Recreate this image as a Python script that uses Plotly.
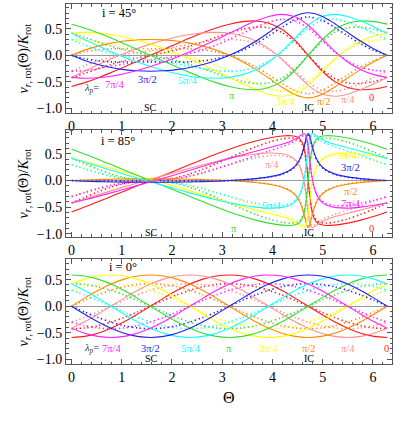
import plotly.graph_objects as go

# Theta grids (radians)
theta_15 = [0.0, 0.2618, 0.5236, 0.7854, 1.0472, 1.3090, 1.5708, 1.8326, 2.0944, 2.3562, 2.6180, 2.8798,
            3.1416, 3.4034, 3.6652, 3.9270, 4.1888, 4.4506, 4.7124, 4.9742, 5.2360, 5.4978, 5.7596, 6.0214, 6.2832]
theta_85 = [0.0, 0.2618, 0.5236, 0.7854, 1.0472, 1.3090, 1.5708, 1.8326, 2.0944, 2.3562, 2.6180, 2.8798,
            3.1416, 3.4034, 3.6652, 3.9270, 4.1888, 4.3633, 4.4680, 4.5379, 4.5902, 4.6251, 4.6426, 4.6600,
            4.6775, 4.6949, 4.7124, 4.7298, 4.7473, 4.7647, 4.7822, 4.7997, 4.8346, 4.8869, 4.9567, 5.0615,
            5.2360, 5.4978, 5.7596, 6.0214, 6.2832]

##########################
# i = 45 deg
##########################
s45_0 = [-0.589, -0.516, -0.427, -0.327, -0.220, -0.111, 0.000, 0.111, 0.220, 0.327, 0.427, 0.516, 0.589, 0.637, 0.650, 0.608, 0.492, 0.282, 0.000, -0.282, -0.492, -0.608, -0.650, -0.637, -0.589]
s45_1 = [-0.417, -0.296, -0.179, -0.068, 0.035, 0.128, 0.212, 0.285, 0.347, 0.394, 0.425, 0.434, 0.417, 0.365, 0.272, 0.126, -0.078, -0.327, -0.568, -0.727, -0.773, -0.734, -0.647, -0.536, -0.417]
s45_2 = [0.000, 0.098, 0.174, 0.231, 0.270, 0.292, 0.300, 0.292, 0.270, 0.231, 0.174, 0.098, 0.000, -0.121, -0.265, -0.430, -0.602, -0.745, -0.804, -0.745, -0.602, -0.430, -0.265, -0.121, 0.000]
s45_3 = [0.417, 0.434, 0.425, 0.394, 0.347, 0.285, 0.212, 0.128, 0.035, -0.068, -0.179, -0.296, -0.417, -0.536, -0.647, -0.734, -0.773, -0.727, -0.568, -0.327, -0.078, 0.126, 0.272, 0.365, 0.417]
s45_4 = [0.589, 0.516, 0.427, 0.327, 0.220, 0.111, 0.000, -0.111, -0.220, -0.327, -0.427, -0.516, -0.589, -0.637, -0.650, -0.608, -0.492, -0.282, 0.000, 0.282, 0.492, 0.608, 0.650, 0.637, 0.589]
s45_5 = [0.417, 0.296, 0.179, 0.068, -0.035, -0.128, -0.212, -0.285, -0.347, -0.394, -0.425, -0.434, -0.417, -0.365, -0.272, -0.126, 0.078, 0.327, 0.568, 0.727, 0.773, 0.734, 0.647, 0.536, 0.417]
s45_6 = [0.000, -0.098, -0.174, -0.231, -0.270, -0.292, -0.300, -0.292, -0.270, -0.231, -0.174, -0.098, 0.000, 0.121, 0.265, 0.430, 0.602, 0.745, 0.804, 0.745, 0.602, 0.430, 0.265, 0.121, 0.000]
s45_7 = [-0.417, -0.434, -0.425, -0.394, -0.347, -0.285, -0.212, -0.128, -0.035, 0.068, 0.179, 0.296, 0.417, 0.536, 0.647, 0.734, 0.773, 0.727, 0.568, 0.327, 0.078, -0.126, -0.272, -0.365, -0.417]

d45_0 = [-0.424, -0.341, -0.254, -0.173, -0.104, -0.048, 0.000, 0.048, 0.104, 0.173, 0.254, 0.341, 0.424, 0.493, 0.532, 0.520, 0.433, 0.253, 0.000, -0.253, -0.433, -0.520, -0.532, -0.493, -0.424]
d45_1 = [-0.300, -0.195, -0.106, -0.036, 0.017, 0.055, 0.088, 0.123, 0.164, 0.209, 0.253, 0.287, 0.300, 0.283, 0.223, 0.108, -0.069, -0.293, -0.512, -0.651, -0.681, -0.627, -0.530, -0.415, -0.300]
d45_2 = [0.000, 0.065, 0.104, 0.123, 0.127, 0.126, 0.124, 0.126, 0.127, 0.123, 0.104, 0.065, 0.000, -0.094, -0.217, -0.368, -0.530, -0.668, -0.725, -0.668, -0.530, -0.368, -0.217, -0.094, 0.000]
d45_3 = [0.300, 0.287, 0.253, 0.209, 0.164, 0.123, 0.088, 0.055, 0.017, -0.036, -0.106, -0.195, -0.300, -0.415, -0.530, -0.627, -0.681, -0.651, -0.512, -0.293, -0.069, 0.108, 0.223, 0.283, 0.300]
d45_4 = [0.424, 0.341, 0.254, 0.173, 0.104, 0.048, 0.000, -0.048, -0.104, -0.173, -0.254, -0.341, -0.424, -0.493, -0.532, -0.520, -0.433, -0.253, 0.000, 0.253, 0.433, 0.520, 0.532, 0.493, 0.424]
d45_5 = [0.300, 0.195, 0.106, 0.036, -0.017, -0.055, -0.088, -0.123, -0.164, -0.209, -0.253, -0.287, -0.300, -0.283, -0.223, -0.108, 0.069, 0.293, 0.512, 0.651, 0.681, 0.627, 0.530, 0.415, 0.300]
d45_6 = [0.000, -0.065, -0.104, -0.123, -0.127, -0.126, -0.124, -0.126, -0.127, -0.123, -0.104, -0.065, 0.000, 0.094, 0.217, 0.368, 0.530, 0.668, 0.725, 0.668, 0.530, 0.368, 0.217, 0.094, 0.000]
d45_7 = [-0.300, -0.287, -0.253, -0.209, -0.164, -0.123, -0.088, -0.055, -0.017, 0.036, 0.106, 0.195, 0.300, 0.415, 0.530, 0.627, 0.681, 0.651, 0.512, 0.293, 0.069, -0.108, -0.223, -0.283, -0.300]

##########################
# i = 85 deg
##########################
s85_0 = [-0.589, -0.498, -0.400, -0.300, -0.199, -0.099, 0.000, 0.099, 0.199, 0.300, 0.400, 0.498, 0.589, 0.672, 0.743, 0.800, 0.837, 0.843, 0.826, 0.788, 0.718, 0.625, 0.552, 0.455, 0.328, 0.173, 0.000, -0.173, -0.328, -0.455, -0.552, -0.625, -0.718, -0.788, -0.826, -0.843, -0.837, -0.800, -0.743, -0.672, -0.589]
s85_1 = [-0.417, -0.344, -0.269, -0.194, -0.119, -0.047, 0.023, 0.093, 0.162, 0.231, 0.297, 0.360, 0.417, 0.464, 0.499, 0.517, 0.503, 0.453, 0.380, 0.282, 0.147, 0.002, -0.096, -0.213, -0.347, -0.489, -0.624, -0.734, -0.811, -0.856, -0.877, -0.882, -0.868, -0.832, -0.788, -0.739, -0.681, -0.615, -0.552, -0.486, -0.417]
s85_2 = [0.000, 0.012, 0.020, 0.026, 0.030, 0.032, 0.033, 0.032, 0.030, 0.026, 0.020, 0.012, 0.000, -0.016, -0.037, -0.070, -0.126, -0.202, -0.289, -0.389, -0.510, -0.622, -0.688, -0.756, -0.819, -0.865, -0.883, -0.865, -0.819, -0.756, -0.688, -0.622, -0.510, -0.389, -0.289, -0.202, -0.126, -0.070, -0.037, -0.016, 0.000]
s85_3 = [0.417, 0.360, 0.297, 0.231, 0.162, 0.093, 0.023, -0.047, -0.119, -0.194, -0.269, -0.344, -0.417, -0.486, -0.552, -0.615, -0.681, -0.739, -0.788, -0.832, -0.868, -0.882, -0.877, -0.856, -0.811, -0.734, -0.624, -0.489, -0.347, -0.213, -0.096, 0.002, 0.147, 0.282, 0.380, 0.453, 0.503, 0.517, 0.499, 0.464, 0.417]
s85_4 = [0.589, 0.498, 0.400, 0.300, 0.199, 0.099, 0.000, -0.099, -0.199, -0.300, -0.400, -0.498, -0.589, -0.672, -0.743, -0.800, -0.837, -0.843, -0.826, -0.788, -0.718, -0.625, -0.552, -0.455, -0.328, -0.173, 0.000, 0.173, 0.328, 0.455, 0.552, 0.625, 0.718, 0.788, 0.826, 0.843, 0.837, 0.800, 0.743, 0.672, 0.589]
s85_5 = [0.417, 0.344, 0.269, 0.194, 0.119, 0.047, -0.023, -0.093, -0.162, -0.231, -0.297, -0.360, -0.417, -0.464, -0.499, -0.517, -0.503, -0.453, -0.380, -0.282, -0.147, -0.002, 0.096, 0.213, 0.347, 0.489, 0.624, 0.734, 0.811, 0.856, 0.877, 0.882, 0.868, 0.832, 0.788, 0.739, 0.681, 0.615, 0.552, 0.486, 0.417]
s85_6 = [0.000, -0.012, -0.020, -0.026, -0.030, -0.032, -0.033, -0.032, -0.030, -0.026, -0.020, -0.012, 0.000, 0.016, 0.037, 0.070, 0.126, 0.202, 0.289, 0.389, 0.510, 0.622, 0.688, 0.756, 0.819, 0.865, 0.883, 0.865, 0.819, 0.756, 0.688, 0.622, 0.510, 0.389, 0.289, 0.202, 0.126, 0.070, 0.037, 0.016, 0.000]
s85_7 = [-0.417, -0.360, -0.297, -0.231, -0.162, -0.093, -0.023, 0.047, 0.119, 0.194, 0.269, 0.344, 0.417, 0.486, 0.552, 0.615, 0.681, 0.739, 0.788, 0.832, 0.868, 0.882, 0.877, 0.856, 0.811, 0.734, 0.624, 0.489, 0.347, 0.213, 0.096, -0.002, -0.147, -0.282, -0.380, -0.453, -0.503, -0.517, -0.499, -0.464, -0.417]

d85_0 = [-0.424, -0.315, -0.213, -0.125, -0.058, -0.015, 0.000, 0.015, 0.058, 0.125, 0.213, 0.315, 0.424, 0.534, 0.635, 0.721, 0.782, 0.799, 0.788, 0.754, 0.688, 0.599, 0.530, 0.436, 0.315, 0.166, 0.000, -0.166, -0.315, -0.436, -0.530, -0.599, -0.688, -0.754, -0.788, -0.799, -0.782, -0.721, -0.635, -0.534, -0.424]
d85_1 = [-0.300, -0.218, -0.143, -0.081, -0.035, -0.007, 0.001, 0.014, 0.047, 0.096, 0.158, 0.228, 0.300, 0.369, 0.426, 0.465, 0.469, 0.430, 0.362, 0.270, 0.141, 0.002, -0.092, -0.205, -0.333, -0.470, -0.599, -0.705, -0.779, -0.822, -0.841, -0.846, -0.832, -0.796, -0.752, -0.700, -0.636, -0.554, -0.472, -0.386, -0.300]
d85_2 = [0.000, 0.007, 0.011, 0.011, 0.009, 0.005, 0.002, 0.005, 0.009, 0.011, 0.011, 0.007, 0.000, -0.013, -0.032, -0.063, -0.118, -0.191, -0.275, -0.373, -0.489, -0.597, -0.660, -0.726, -0.786, -0.831, -0.847, -0.831, -0.786, -0.726, -0.660, -0.597, -0.489, -0.373, -0.275, -0.191, -0.118, -0.063, -0.032, -0.013, 0.000]
d85_3 = [0.300, 0.228, 0.158, 0.096, 0.047, 0.014, 0.001, -0.007, -0.035, -0.081, -0.143, -0.218, -0.300, -0.386, -0.472, -0.554, -0.636, -0.700, -0.752, -0.796, -0.832, -0.846, -0.841, -0.822, -0.779, -0.705, -0.599, -0.470, -0.333, -0.205, -0.092, 0.002, 0.141, 0.270, 0.362, 0.430, 0.469, 0.465, 0.426, 0.369, 0.300]
d85_4 = [0.424, 0.315, 0.213, 0.125, 0.058, 0.015, 0.000, -0.015, -0.058, -0.125, -0.213, -0.315, -0.424, -0.534, -0.635, -0.721, -0.782, -0.799, -0.788, -0.754, -0.688, -0.599, -0.530, -0.436, -0.315, -0.166, 0.000, 0.166, 0.315, 0.436, 0.530, 0.599, 0.688, 0.754, 0.788, 0.799, 0.782, 0.721, 0.635, 0.534, 0.424]
d85_5 = [0.300, 0.218, 0.143, 0.081, 0.035, 0.007, -0.001, -0.014, -0.047, -0.096, -0.158, -0.228, -0.300, -0.369, -0.426, -0.465, -0.469, -0.430, -0.362, -0.270, -0.141, -0.002, 0.092, 0.205, 0.333, 0.470, 0.599, 0.705, 0.779, 0.822, 0.841, 0.846, 0.832, 0.796, 0.752, 0.700, 0.636, 0.554, 0.472, 0.386, 0.300]
d85_6 = [0.000, -0.007, -0.011, -0.011, -0.009, -0.005, -0.002, -0.005, -0.009, -0.011, -0.011, -0.007, 0.000, 0.013, 0.032, 0.063, 0.118, 0.191, 0.275, 0.373, 0.489, 0.597, 0.660, 0.726, 0.786, 0.831, 0.847, 0.831, 0.786, 0.726, 0.660, 0.597, 0.489, 0.373, 0.275, 0.191, 0.118, 0.063, 0.032, 0.013, 0.000]
d85_7 = [-0.300, -0.228, -0.158, -0.096, -0.047, -0.014, -0.001, 0.007, 0.035, 0.081, 0.143, 0.218, 0.300, 0.386, 0.472, 0.554, 0.636, 0.700, 0.752, 0.796, 0.832, 0.846, 0.841, 0.822, 0.779, 0.705, 0.599, 0.470, 0.333, 0.205, 0.092, -0.002, -0.141, -0.270, -0.362, -0.430, -0.469, -0.465, -0.426, -0.369, -0.300]

##########################
# i = 0 deg
##########################
s0_0 = [-0.589, -0.569, -0.510, -0.417, -0.295, -0.152, 0.000, 0.152, 0.295, 0.417, 0.510, 0.569, 0.589, 0.569, 0.510, 0.417, 0.295, 0.152, 0.000, -0.152, -0.295, -0.417, -0.510, -0.569, -0.589]
s0_1 = [-0.417, -0.295, -0.152, 0.000, 0.152, 0.295, 0.417, 0.510, 0.569, 0.589, 0.569, 0.510, 0.417, 0.295, 0.152, 0.000, -0.152, -0.295, -0.417, -0.510, -0.569, -0.589, -0.569, -0.510, -0.417]
s0_2 = [0.000, 0.152, 0.295, 0.417, 0.510, 0.569, 0.589, 0.569, 0.510, 0.417, 0.295, 0.152, 0.000, -0.152, -0.295, -0.417, -0.510, -0.569, -0.589, -0.569, -0.510, -0.417, -0.295, -0.152, 0.000]
s0_3 = [0.417, 0.510, 0.569, 0.589, 0.569, 0.510, 0.417, 0.295, 0.152, 0.000, -0.152, -0.295, -0.417, -0.510, -0.569, -0.589, -0.569, -0.510, -0.417, -0.295, -0.152, 0.000, 0.152, 0.295, 0.417]
s0_4 = [0.589, 0.569, 0.510, 0.417, 0.295, 0.152, 0.000, -0.152, -0.295, -0.417, -0.510, -0.569, -0.589, -0.569, -0.510, -0.417, -0.295, -0.152, 0.000, 0.152, 0.295, 0.417, 0.510, 0.569, 0.589]
s0_5 = [0.417, 0.295, 0.152, 0.000, -0.152, -0.295, -0.417, -0.510, -0.569, -0.589, -0.569, -0.510, -0.417, -0.295, -0.152, 0.000, 0.152, 0.295, 0.417, 0.510, 0.569, 0.589, 0.569, 0.510, 0.417]
s0_6 = [0.000, -0.152, -0.295, -0.417, -0.510, -0.569, -0.589, -0.569, -0.510, -0.417, -0.295, -0.152, 0.000, 0.152, 0.295, 0.417, 0.510, 0.569, 0.589, 0.569, 0.510, 0.417, 0.295, 0.152, 0.000]
s0_7 = [-0.417, -0.510, -0.569, -0.589, -0.569, -0.510, -0.417, -0.295, -0.152, 0.000, 0.152, 0.295, 0.417, 0.510, 0.569, 0.589, 0.569, 0.510, 0.417, 0.295, 0.152, 0.000, -0.152, -0.295, -0.417]

d0_0 = [-0.424, -0.410, -0.368, -0.300, -0.212, -0.110, 0.000, 0.110, 0.212, 0.300, 0.368, 0.410, 0.424, 0.410, 0.368, 0.300, 0.212, 0.110, 0.000, -0.110, -0.212, -0.300, -0.368, -0.410, -0.424]
d0_1 = [-0.300, -0.212, -0.110, 0.000, 0.110, 0.212, 0.300, 0.368, 0.410, 0.424, 0.410, 0.368, 0.300, 0.212, 0.110, 0.000, -0.110, -0.212, -0.300, -0.368, -0.410, -0.424, -0.410, -0.368, -0.300]
d0_2 = [0.000, 0.110, 0.212, 0.300, 0.368, 0.410, 0.424, 0.410, 0.368, 0.300, 0.212, 0.110, 0.000, -0.110, -0.212, -0.300, -0.368, -0.410, -0.424, -0.410, -0.368, -0.300, -0.212, -0.110, 0.000]
d0_3 = [0.300, 0.368, 0.410, 0.424, 0.410, 0.368, 0.300, 0.212, 0.110, 0.000, -0.110, -0.212, -0.300, -0.368, -0.410, -0.424, -0.410, -0.368, -0.300, -0.212, -0.110, 0.000, 0.110, 0.212, 0.300]
d0_4 = [0.424, 0.410, 0.368, 0.300, 0.212, 0.110, 0.000, -0.110, -0.212, -0.300, -0.368, -0.410, -0.424, -0.410, -0.368, -0.300, -0.212, -0.110, 0.000, 0.110, 0.212, 0.300, 0.368, 0.410, 0.424]
d0_5 = [0.300, 0.212, 0.110, 0.000, -0.110, -0.212, -0.300, -0.368, -0.410, -0.424, -0.410, -0.368, -0.300, -0.212, -0.110, 0.000, 0.110, 0.212, 0.300, 0.368, 0.410, 0.424, 0.410, 0.368, 0.300]
d0_6 = [0.000, -0.110, -0.212, -0.300, -0.368, -0.410, -0.424, -0.410, -0.368, -0.300, -0.212, -0.110, 0.000, 0.110, 0.212, 0.300, 0.368, 0.410, 0.424, 0.410, 0.368, 0.300, 0.212, 0.110, 0.000]
d0_7 = [-0.300, -0.368, -0.410, -0.424, -0.410, -0.368, -0.300, -0.212, -0.110, 0.000, 0.110, 0.212, 0.300, 0.368, 0.410, 0.424, 0.410, 0.368, 0.300, 0.212, 0.110, 0.000, -0.110, -0.212, -0.300]

# lambda_p = 0, pi/4, pi/2, 3pi/4, pi, 5pi/4, 3pi/2, 7pi/4
colors = ['#ff1a1a', '#ff8f8f', '#ff8a00', '#ffff00', '#33dd33', '#11ffff', '#2222ee', '#ff22ff']

SERIF = 'Liberation Serif, Times New Roman, Times, DejaVu Serif, serif'

fig = go.Figure()

panels = [
    ('x', 'y', theta_15,
     [s45_0, s45_1, s45_2, s45_3, s45_4, s45_5, s45_6, s45_7],
     [d45_0, d45_1, d45_2, d45_3, d45_4, d45_5, d45_6, d45_7]),
    ('x2', 'y2', theta_85,
     [s85_0, s85_1, s85_2, s85_3, s85_4, s85_5, s85_6, s85_7],
     [d85_0, d85_1, d85_2, d85_3, d85_4, d85_5, d85_6, d85_7]),
    ('x3', 'y3', theta_15,
     [s0_0, s0_1, s0_2, s0_3, s0_4, s0_5, s0_6, s0_7],
     [d0_0, d0_1, d0_2, d0_3, d0_4, d0_5, d0_6, d0_7]),
]

for xa, ya, th, sol, dot in panels:
    for k in range(8):
        fig.add_trace(go.Scatter(
            x=th, y=dot[k], mode='lines', xaxis=xa, yaxis=ya,
            line=dict(color=colors[k], width=1.6, dash='1.3px,2.7px', shape='spline', smoothing=0.8),
            showlegend=False, hoverinfo='skip'))
    for k in range(8):
        fig.add_trace(go.Scatter(
            x=th, y=sol[k], mode='lines', xaxis=xa, yaxis=ya,
            line=dict(color=colors[k], width=1.1, shape='spline', smoothing=0.8),
            showlegend=False, hoverinfo='skip'))

frame = '#555555'
xcommon = dict(range=[-0.11, 6.38], tick0=0, dtick=1, showline=True, mirror='ticks',
               linecolor=frame, linewidth=1, ticks='inside', ticklen=5, tickcolor=frame,
               showgrid=False, zeroline=False,
               tickfont=dict(family=SERIF, size=14, color='black'),
               minor=dict(ticks='inside', ticklen=2.5, tickcolor=frame, dtick=0.2, tick0=0))
ycommon = dict(tick0=0, dtick=0.5, tickformat='.1f', showline=True, mirror='ticks',
               linecolor=frame, linewidth=1, ticks='inside', ticklen=5, tickcolor=frame,
               showgrid=False, zeroline=True, zerolinecolor='#999999', zerolinewidth=1,
               tickfont=dict(family=SERIF, size=14, color='black'),
               minor=dict(ticks='inside', ticklen=2.5, tickcolor=frame, dtick=0.1, tick0=0))

fig.update_layout(
    width=407, height=426,
    margin=dict(l=66, r=15, t=4, b=62),
    paper_bgcolor='white', plot_bgcolor='white',
    font=dict(family=SERIF, color='black'),
    xaxis=dict(xcommon, anchor='y'),
    xaxis2=dict(xcommon, anchor='y2'),
    xaxis3=dict(xcommon, anchor='y3'),
    yaxis=dict(ycommon, range=[-1.09, 0.97], domain=[0.6972, 1.0], anchor='x'),
    yaxis2=dict(ycommon, range=[-1.06, 0.95], domain=[0.3528, 0.65], anchor='x2'),
    yaxis3=dict(ycommon, range=[-1.09, 0.89], domain=[0.0, 0.2917], anchor='x3'),
)

ann = []


def lab(xr, yr, x, y, text, color, size=10.5):
    ann.append(dict(xref=xr, yref=yr, x=x, y=y, text=text, showarrow=False,
                    font=dict(family=SERIF, size=size, color=color),
                    xanchor='center', yanchor='middle'))


lam_eq = '<i>λ</i><sub><i>p</i></sub>='

# top panel, i = 45
lab('x', 'y', 0.95, 0.80, 'i = 45°', 'black', 12.5)
lab('x', 'y', 0.40, -0.63, lam_eq, '#333333')
for txt, k, x, y in [('7π/4', 7, 0.86, -0.56), ('3π/2', 6, 1.52, -0.46), ('5π/4', 5, 2.30, -0.48),
                     ('π', 4, 3.20, -0.75), ('3π/4', 3, 4.25, -0.88), ('π/2', 2, 5.02, -0.87),
                     ('π/4', 1, 5.50, -0.83), ('0', 0, 5.97, -0.80)]:
    lab('x', 'y', x, y, txt, colors[k])
lab('x', 'y', 1.57, -0.98, 'SC', 'black', 10)
lab('x', 'y', 4.72, -0.99, 'IC', 'black', 10)

# middle panel, i = 85
lab('x2', 'y2', 0.93, 0.75, 'i = 85°', 'black', 12.5)
for txt, k, x, y in [('π/4', 1, 4.00, 0.31), ('3π/4', 3, 5.50, 0.47), ('3π/2', 6, 5.55, 0.25),
                     ('5π/4', 5, 3.98, -0.46), ('π/2', 2, 5.55, -0.21), ('7π/4', 7, 5.55, -0.43),
                     ('π', 4, 3.23, -0.90), ('0', 0, 5.98, -0.90)]:
    lab('x2', 'y2', x, y, txt, colors[k])
lab('x2', 'y2', 1.60, -0.97, 'SC', 'black', 10)
lab('x2', 'y2', 4.73, -0.97, 'IC', 'black', 10)

# bottom panel, i = 0
lab('x3', 'y3', 1.02, 0.74, 'i = 0°', 'black', 12.5)
lab('x3', 'y3', 0.40, -0.79, lam_eq, '#333333')
for txt, k, x, y in [('7π/4', 7, 0.79, -0.79), ('3π/2', 6, 1.57, -0.79), ('5π/4', 5, 2.36, -0.79),
                     ('π', 4, 3.14, -0.79), ('3π/4', 3, 3.93, -0.79), ('π/2', 2, 4.71, -0.79),
                     ('π/4', 1, 5.50, -0.79), ('0', 0, 6.27, -0.79)]:
    lab('x3', 'y3', x, y, txt, colors[k])
lab('x3', 'y3', 1.60, -0.99, 'SC', 'black', 10)
lab('x3', 'y3', 4.72, -0.99, 'IC', 'black', 10)

# y titles, one per panel
ytitle = '<i>v</i><sub><i>r</i>, rot</sub>(Θ)/<i>K</i><sub>rot</sub>'
for yc in [0.8486, 0.5014, 0.1458]:
    ann.append(dict(xref='paper', yref='paper', x=-0.126, y=yc, text=ytitle, textangle=-90,
                    showarrow=False, xanchor='center', yanchor='middle',
                    font=dict(family=SERIF, size=14, color='black')))

# x title
ann.append(dict(xref='paper', yref='paper', x=0.5, y=-0.092, text='Θ', showarrow=False,
                xanchor='center', yanchor='middle', font=dict(family=SERIF, size=16, color='black')))

fig.update_layout(annotations=ann)

fig.write_html("out.html", config={'displayModeBar': False},
               post_script="document.body.style.margin='0';")
